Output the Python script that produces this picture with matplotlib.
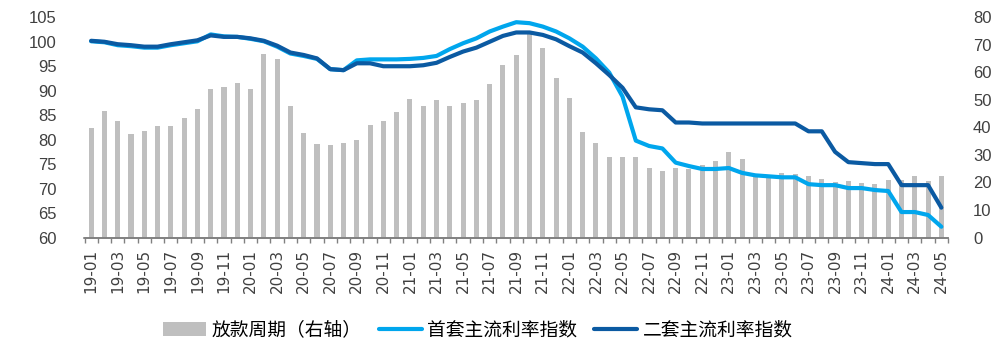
import matplotlib.pyplot as plt
import numpy as np

plt.rcParams['font.family'] = ['Liberation Sans', 'Noto Sans CJK SC', 'DejaVu Sans']

# 月份 19-01 ~ 24-05
months = [f"{y:02d}-{m:02d}" for y in range(19, 25) for m in range(1, 13)]
months = months[:months.index("24-05") + 1]

# 放款周期（右轴）
loan_cycle = [39.9, 45.9, 42.3, 37.6, 38.7, 40.5, 40.5, 43.5, 46.7, 53.9,
              54.7, 56.1, 53.9, 66.7, 64.8, 47.7, 37.9, 33.9, 33.6, 34.3,
              35.4, 40.8, 42.3, 45.6, 50.3, 47.7, 49.9, 47.7, 48.8, 49.9,
              55.7, 62.6, 66.3, 73.8, 68.8, 57.9, 50.7, 38.3, 34.3, 29.2,
              29.3, 29.3, 25.2, 24.1, 25.2, 25.0, 26.3, 27.7, 31.0, 28.5,
              23.0, 22.2, 23.4, 23.0, 22.3, 21.2, 20.1, 20.5, 19.7, 19.4,
              20.8, 21.0, 22.3, 20.5, 22.3]

# 首套主流利率指数
first_home = [100.1, 99.9, 99.3, 99.1, 98.8, 98.8, 99.3, 99.7, 100.1, 101.5,
              101.1, 101.0, 100.6, 100.1, 99.0, 97.6, 97.1, 96.5, 94.4, 94.2,
              96.2, 96.4, 96.4, 96.4, 96.5, 96.7, 97.1, 98.5, 99.7, 100.7,
              102.1, 103.1, 104.0, 103.8, 103.1, 102.1, 100.7, 99.0, 96.6, 93.7,
              88.8, 79.8, 78.7, 78.2, 75.3, 74.6, 74.0, 74.0, 74.2, 73.2,
              72.7, 72.5, 72.3, 72.3, 70.9, 70.7, 70.7, 70.1, 70.1, 69.7,
              69.5, 65.2, 65.2, 64.6, 62.2]

# 二套主流利率指数
second_home = [100.2, 100.0, 99.5, 99.3, 99.0, 99.0, 99.5, 99.9, 100.3, 101.3,
               101.0, 101.0, 100.7, 100.2, 99.2, 97.8, 97.3, 96.6, 94.4, 94.2,
               95.6, 95.6, 95.0, 95.0, 95.0, 95.2, 95.7, 96.9, 98.0, 98.8,
               100.0, 101.2, 101.9, 101.9, 101.4, 100.5, 99.1, 97.8, 95.6, 93.2,
               90.6, 86.6, 86.2, 86.0, 83.5, 83.5, 83.3, 83.3, 83.3, 83.3,
               83.3, 83.3, 83.3, 83.3, 81.7, 81.7, 77.5, 75.4, 75.2, 75.0,
               75.0, 70.7, 70.7, 70.7, 66.1]

x = np.arange(len(months))

fig = plt.figure(figsize=(9.97, 3.58), dpi=100)
ax = fig.add_axes([84.5 / 997, 1 - 237.5 / 358, (948 - 84.5) / 997, (237.5 - 17.3) / 358])
ax2 = ax.twinx()

# 柱子在右轴，线在左轴，柱子放在底层
ax.set_zorder(ax2.get_zorder() + 1)
ax.patch.set_visible(False)

bars = ax2.bar(x, loan_cycle, width=0.38, color='#BFBFBF', label='放款周期（右轴）')
l1, = ax.plot(x, first_home, color='#00A6ED', lw=3.0, solid_capstyle='round',
              solid_joinstyle='round', label='首套主流利率指数')
l2, = ax.plot(x, second_home, color='#0B5AA2', lw=3.0, solid_capstyle='round',
              solid_joinstyle='round', label='二套主流利率指数')

ax.set_xlim(-0.5, len(months) - 0.5)
ax.set_ylim(60, 105)
ax.set_yticks(range(60, 106, 5))
ax2.set_ylim(0, 80)
ax2.set_yticks(range(0, 81, 10))

ax.set_xticks(x[::2])
ax.set_xticklabels(months[::2], rotation=90, fontsize=11, color='#404040',
                   family='DejaVu Sans')
ax.set_xticks(np.arange(-0.5, len(months), 1), minor=True)
ax.tick_params(axis='x', which='major', length=0, pad=8)
ax.tick_params(axis='x', which='minor', length=3.5, color='#808080', width=1)
ax.tick_params(axis='y', length=0, labelsize=12, pad=20, colors='#404040')
ax2.tick_params(axis='y', length=0, labelsize=12, pad=18, colors='#404040')
ax2.tick_params(axis='x', length=0)

for a in (ax, ax2):
    for s in ('top', 'left', 'right'):
        a.spines[s].set_visible(False)
    a.spines['bottom'].set_color('#808080')
    a.spines['bottom'].set_linewidth(1.2)

fig.legend([bars, l1, l2], [bars.get_label(), l1.get_label(), l2.get_label()],
           loc='center', bbox_to_anchor=(478 / 997, 1 - 330 / 358), ncol=3,
           frameon=False, handlelength=2.3, handletextpad=0.3,
           columnspacing=0.9, prop={'family': ['Noto Sans CJK SC'], 'size': 13.5})

fig.savefig('out.png', dpi=100)
